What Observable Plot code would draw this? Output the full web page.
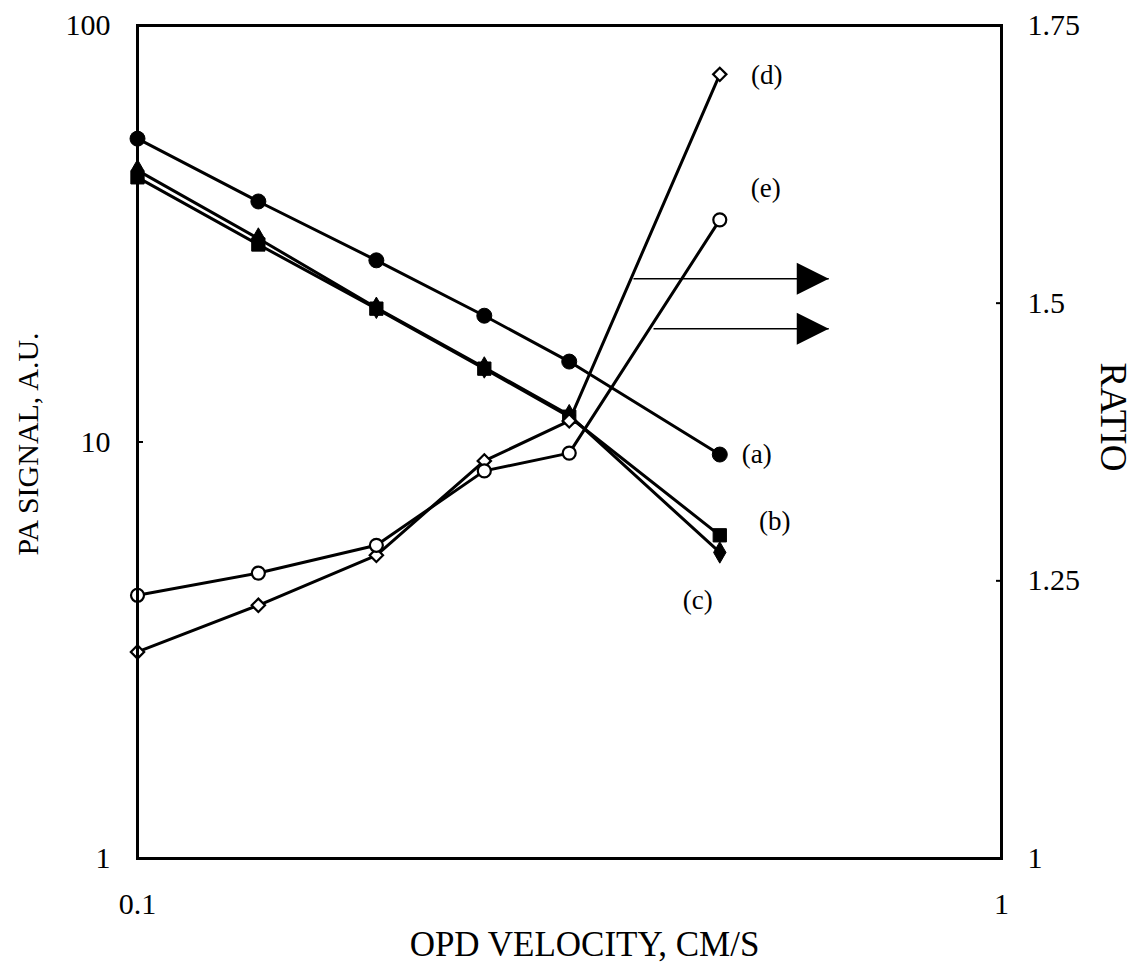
<!DOCTYPE html>
<html>
<head>
<meta charset="utf-8">
<script src="https://cdn.jsdelivr.net/npm/d3@7"></script>
<script src="https://cdn.jsdelivr.net/npm/@observablehq/plot@0.6"></script>
<style>
  html, body { margin: 0; padding: 0; background: white; }
</style>
</head>
<body>
<div id="chart"></div>
<script>
// ---- data ----
const velocity = [0.1, 0.138, 0.189, 0.252, 0.316, 0.472];          // OPD velocity, cm/s
const signalA = [53.5, 37.8, 27.3, 20.1, 15.6, 9.33];                // PA signal (a)
const signalB = [43.2, 29.8, 20.9, 15.0, 11.5, 5.97];                // PA signal (b)
const signalC = [44.9, 30.8, 21.0, 15.1, 11.6, 5.43];                // PA signal (c)
const ratioD = [1.186, 1.228, 1.273, 1.358, 1.394, 1.706];           // ratio (d)
const ratioE = [1.237, 1.257, 1.282, 1.349, 1.365, 1.575];           // ratio (e)
const leftTicks = [1, 10, 100];
const rightTicks = [1, 1.25, 1.5, 1.75];
const xTicks = [0.1, 1];
// arrows pointing from curves (d) and (e) to the ratio axis
const arrowStartX = [0.375, 0.3956];
const arrowEndX = [0.631, 0.631];
const arrowRatio = [1.522, 1.477];

// ratio axis (linear 1..1.75) mapped onto the log PA axis (1..100)
const toY = r => Math.pow(10, (r - 1) / 0.75 * 2);
const fromY = y => 1 + Math.log10(y) / 2 * 0.75;

const series = [
  {label: "(a)", values: signalA, ratio: false, symbol: "circle", fill: "black", r: 7.5, dx: 37, dy: 0},
  {label: "(b)", values: signalB, ratio: false, symbol: "square", fill: "black", r: 7.5, dx: 55, dy: -14},
  {label: "(c)", values: signalC, ratio: false, symbol: "diamond", fill: "black", r: 6.5, dx: -22, dy: 48},
  {label: "(d)", values: ratioD, ratio: true, symbol: "diamond2", fill: "white", r: 6, dx: 47, dy: 1},
  {label: "(e)", values: ratioE, ratio: true, symbol: "circle", fill: "white", r: 6.5, dx: 46, dy: -32}
];

const font = "'Liberation Serif', 'Times New Roman', serif";

const rightTriangle = {
  draw(ctx, size) {
    const r = Math.sqrt(size / Math.PI);
    ctx.moveTo(r, 0);
    ctx.lineTo(-r, -r);
    ctx.lineTo(-r, r);
    ctx.closePath();
  }
};

const marks = [];

series.forEach(s => {
  const rows = velocity.map((v, i) => ({x: v, y: s.ratio ? toY(s.values[i]) : s.values[i]}));
  marks.push(Plot.line(rows, {x: "x", y: "y", stroke: "black", strokeWidth: 3}));
});

const arrows = arrowStartX.map((x1, i) => ({x1, x2: arrowEndX[i], y: toY(arrowRatio[i])}));
marks.push(Plot.link(arrows, {x1: "x1", x2: "x2", y1: "y", y2: "y", stroke: "black", strokeWidth: 1.5}));
marks.push(Plot.dot(arrows, {x: "x2", y: "y", symbol: rightTriangle, r: 16, fill: "black", stroke: "none", dx: -16}));

series.forEach(s => {
  const rows = velocity.map((v, i) => ({x: v, y: s.ratio ? toY(s.values[i]) : s.values[i]}));
  marks.push(Plot.dot(rows, {x: "x", y: "y", symbol: s.symbol, r: s.r, fill: s.fill, stroke: "black", strokeWidth: s.fill === "white" ? 2.2 : 1}));
  const last = rows[rows.length - 1];
  marks.push(Plot.text([s.label], {x: () => last.x, y: () => last.y, text: d => d, dx: s.dx, dy: s.dy, fontSize: 27, fontFamily: font, fill: "black", textAnchor: "middle", lineAnchor: "middle"}));
});

// axes
marks.push(Plot.axisY({ticks: leftTicks, tickFormat: d => String(d), tickSize: 0, tickPadding: 27, label: null, fontSize: 30, fontFamily: font}));
marks.push(Plot.axisY({ticks: leftTicks, tickFormat: () => "", tickSize: 6, dx: 6, label: null, strokeWidth: 2}));
marks.push(Plot.axisY({anchor: "right", ticks: rightTicks.map(toY), tickFormat: d => String(+fromY(d).toFixed(2)), tickSize: 0, tickPadding: 26, label: null, fontSize: 30, fontFamily: font}));
marks.push(Plot.axisY({anchor: "right", ticks: rightTicks.map(toY), tickFormat: () => "", tickSize: 6, dx: -6, label: null, strokeWidth: 2}));
marks.push(Plot.axisX({ticks: xTicks, tickFormat: d => String(d), tickSize: 0, tickPadding: 34, label: null, fontSize: 30, fontFamily: font}));

// axis titles
marks.push(Plot.text(["OPD VELOCITY, CM/S"], {frameAnchor: "bottom", dx: 15, dy: 86, fontSize: 35, letterSpacing: 1, fontFamily: font, textAnchor: "middle", lineAnchor: "middle"}));
marks.push(Plot.text(["PA SIGNAL, A.U."], {frameAnchor: "left", dx: -109, dy: 2, rotate: -90, fontSize: 30, fontFamily: font, textAnchor: "middle", lineAnchor: "middle"}));
marks.push(Plot.text(["RATIO"], {frameAnchor: "right", dx: 111, dy: -25, rotate: 90, fontSize: 37, letterSpacing: 6, fontFamily: font, textAnchor: "middle", lineAnchor: "middle"}));

marks.push(Plot.frame({stroke: "black", strokeWidth: 3}));

const chart = Plot.plot({
  width: 1133,
  height: 977,
  marginLeft: 137,
  marginRight: 132,
  marginTop: 25,
  marginBottom: 119,
  x: {type: "log", domain: [0.1, 1]},
  y: {type: "log", domain: [1, 100]},
  style: {fontFamily: font, background: "white", color: "black", overflow: "visible"},
  marks
});
document.getElementById("chart").appendChild(chart);
</script>
</body>
</html>
